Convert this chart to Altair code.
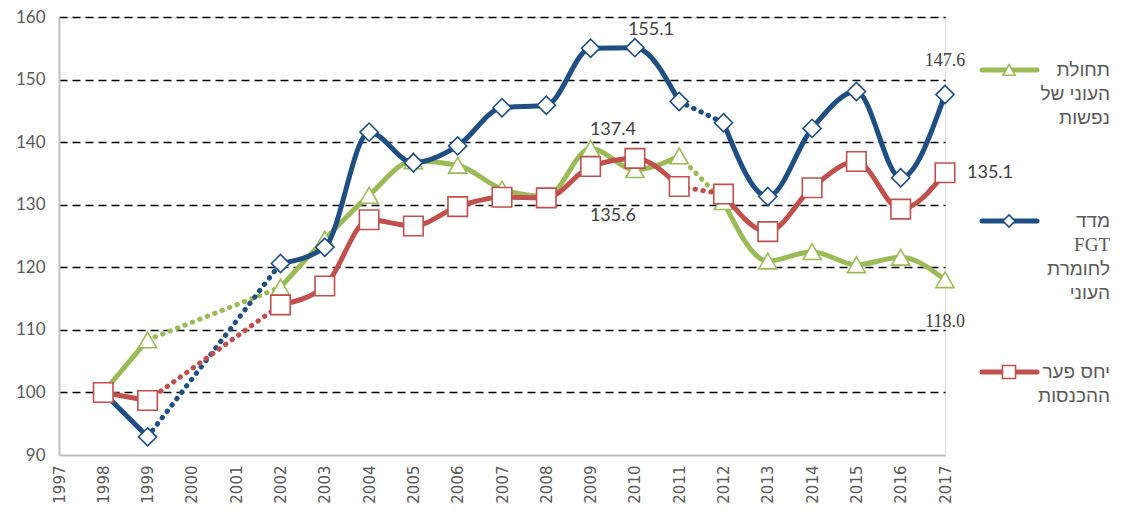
import altair as alt
import pandas as pd

years = [1998, 1999, 2002, 2003, 2004, 2005, 2006, 2007, 2008, 2009,
         2010, 2011, 2012, 2013, 2014, 2015, 2016, 2017]
poverty_persons = [100.0, 108.4, 116.8, 124.5, 131.5, 137.0, 136.3, 132.5, 131.3, 139.0,
                   135.6, 137.8, 130.5, 121.0, 122.5, 120.4, 121.6, 118.0]
fgt_index = [100.0, 92.9, 120.6, 123.2, 141.6, 136.7, 139.4, 145.5, 145.9, 155.0,
             155.1, 146.5, 143.1, 131.3, 142.2, 148.1, 134.3, 147.6]
income_gap = [100.0, 98.7, 114.0, 117.0, 127.6, 126.6, 129.7, 131.2, 131.1, 136.1,
              137.4, 132.9, 131.7, 125.7, 132.7, 136.9, 129.3, 135.1]

series_names = ["poverty", "fgt", "gap"]
series_values = {"poverty": poverty_persons, "fgt": fgt_index, "gap": income_gap}
series_colors = {"poverty": "#9BBB59", "fgt": "#1F4E82", "gap": "#C0504D"}
series_shapes = {"poverty": "triangle-up", "fgt": "diamond", "gap": "square"}
series_sizes = {"poverty": 330, "fgt": 330, "gap": 380}

solid_ranges = [(1998, 1999), (2002, 2011), (2012, 2017)]
dotted_ranges = [(1999, 2002), (2011, 2012)]

x_ticks = list(range(1997, 2018))
y_ticks = [90, 100, 110, 120, 130, 140, 150, 160]

# (series, year, dx, dy, font)
data_labels = [
    ("fgt", 2010, 16, -18, "Lato"),
    ("gap", 2010, -22, -28, "Lato"),
    ("poverty", 2010, -22, 46, "Lato"),
    ("fgt", 2017, 0, -34, "Liberation Serif"),
    ("gap", 2017, 45, 0, "Lato"),
    ("poverty", 2017, 0, 42, "Liberation Serif"),
]

legend_items = [
    ("poverty", 53, ["תחולת", "העוני של", "נפשות"]),
    ("fgt", 204, ["מדד", "FGT", "לחומרת", "העוני"]),
    ("gap", 355, ["יחס פער", "ההכנסות"]),
]

rows = []
for s in series_names:
    for y, v in zip(years, series_values[s]):
        rows.append({"series": s, "year": y, "value": v})
points_df = pd.DataFrame(rows)

seg_rows = []
for s in series_names:
    for kind, ranges in (("solid", solid_ranges), ("dotted", dotted_ranges)):
        for i, (a, b) in enumerate(ranges):
            for y, v in zip(years, series_values[s]):
                if a <= y <= b:
                    seg_rows.append({"series": s, "year": y, "value": v,
                                     "kind": kind, "seg": f"{kind}{i}"})
seg_df = pd.DataFrame(seg_rows)

W, H = 886, 438

x_enc = alt.X("year:Q",
              scale=alt.Scale(domain=[1997, 2017], nice=False, zero=False),
              axis=alt.Axis(values=x_ticks, format="d", labelAngle=270, grid=False,
                            ticks=False, labelPadding=10, labelFont="DejaVu Sans",
                            labelFontSize=15, labelColor="#595959",
                            domainColor="#BFBFBF", domainWidth=2, title=None),
              title=None)
y_enc = alt.Y("value:Q",
              scale=alt.Scale(domain=[90, 160], nice=False, zero=False),
              axis=alt.Axis(values=y_ticks, grid=True, gridColor="black", gridWidth=1.6,
                            gridDash=[8, 5],
                            gridOpacity={"condition": {"test": "datum.value === 90", "value": 0}, "value": 1},
                            ticks=False, labelPadding=14, labelFont="Lato",
                            labelFontSize=17, labelColor="#595959",
                            domainColor="#BFBFBF", domainWidth=2, title=None),
              title=None)

layers = []
for s in series_names:
    col = series_colors[s]
    solid = alt.Chart(seg_df).transform_filter(
        f"datum.series === '{s}' && datum.kind === 'solid'"
    ).mark_line(color=col, strokeWidth=5, interpolate="monotone", strokeCap="round").encode(
        x=x_enc, y=y_enc, detail="seg:N", order="year:Q")
    dotted = alt.Chart(seg_df).transform_filter(
        f"datum.series === '{s}' && datum.kind === 'dotted'"
    ).mark_line(color=col, strokeWidth=5, strokeDash=[0.5, 7.5], strokeCap="round").encode(
        x=x_enc, y=y_enc, detail="seg:N", order="year:Q")
    pts = alt.Chart(points_df).transform_filter(
        f"datum.series === '{s}'"
    ).mark_point(shape=series_shapes[s], size=series_sizes[s], filled=True, fill="white",
                 fillOpacity=1, stroke=col, strokeWidth=1.6, opacity=1).encode(
        x=x_enc, y=y_enc)
    layers += [solid, dotted, pts]

for s, yr, dx, dy, font in data_labels:
    layers.append(
        alt.Chart(points_df).transform_filter(
            f"datum.series === '{s}' && datum.year === {yr}"
        ).transform_calculate(label="format(datum.value, '.1f')").mark_text(
            dx=dx, dy=dy, font=font, fontSize=18, color="#404040", align="center",
            baseline="middle").encode(x=x_enc, y=y_enc, text="label:N"))

one = pd.DataFrame({"k": [0]})
for s, ly, lines in legend_items:
    col = series_colors[s]
    layers.append(alt.Chart(one).mark_rule(color=col, strokeWidth=5, strokeCap="round").encode(
        x=alt.value(923), x2=alt.value(978), y=alt.value(ly)))
    layers.append(alt.Chart(one).mark_point(shape=series_shapes[s], size=series_sizes[s] * 0.45,
                                            filled=True, fill="white", fillOpacity=1, stroke=col,
                                            strokeWidth=1.6, opacity=1).encode(
        x=alt.value(950), y=alt.value(ly)))
    for i, line in enumerate(lines):
        font = "Liberation Serif" if line == "FGT" else "Liberation Sans"
        layers.append(alt.Chart(one).mark_text(
            text=line, font=font, fontSize=19, color="#595959", align="right",
            baseline="middle").encode(x=alt.value(1051), y=alt.value(ly + i * 24)))

chart = alt.layer(*layers).properties(
    width=W, height=H, autosize="none",
    padding={"left": 51, "top": 9, "right": 173, "bottom": 63},
).configure_view(stroke=None).configure(background="white")

chart.save("out.html", embed_options={"renderer": "svg", "actions": False})
